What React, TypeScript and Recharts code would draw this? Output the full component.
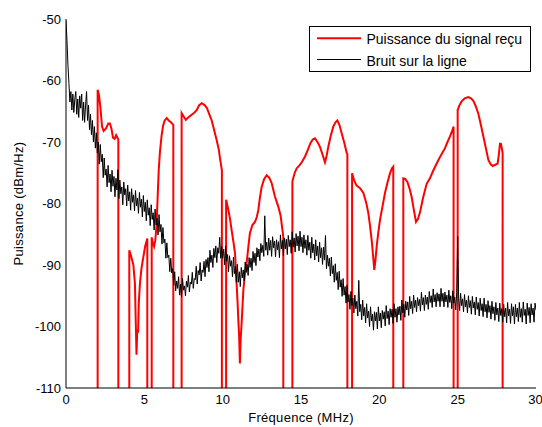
import React from 'react';
import { LineChart, Line, XAxis, YAxis, Legend } from 'recharts';

const FREQ_TICKS = [0, 5, 10, 15, 20, 25, 30];
const DBM_TICKS = [-110, -100, -90, -80, -70, -60, -50];
const SERIES_NAMES = ['Puissance du signal reçu', 'Bruit sur la ligne'];
const X_TITLE = 'Fréquence (MHz)';
const Y_TITLE = 'Puissance (dBm/Hz)';

// value used where the received signal falls below the displayed floor (notches)
const BELOW_FLOOR = -130;

// line noise, sampled every 0.0625 MHz from 0 to 30 MHz (one row per MHz)
const NOISE_STEP_MHZ = 0.0625;
const NOISE_DBM = [
  -50.2, -53.5, -57.5, -60.5, -63.5, -61.8, -64.8, -62.2, -65.2, -63, -61.8, -65.5, -63, -66, -62.5, -64.5,
  -62.2, -66.5, -63.5, -66.8, -64, -61.8, -66.5, -64, -68, -65.5, -68.8, -66.5, -70, -67.5, -71, -68.5,
  -71.8, -70, -73.6, -70.4, -73.2, -72, -75.8, -72.6, -75.4, -74.4, -77.3, -73.8, -76.6, -75.2, -78.1, -74.6,
  -77.2, -75.6, -78.9, -75.9, -77.8, -74.5, -79.2, -76.2, -78.4, -77.3, -80.2, -76.5, -78.6, -77.6, -80.4, -77,
  -79.6, -78.1, -81.1, -77.6, -79.8, -78.6, -81.2, -77.9, -80.4, -79.1, -81.6, -78.2, -80.6, -79.3, -82.2, -78.7,
  -81.3, -79.8, -82.8, -79.4, -81.9, -80.7, -83.6, -80.2, -82.6, -81.5, -84.3, -80.9, -83.5, -82.4, -85.1, -81.8,
  -84.6, -83.4, -86.6, -83.9, -86.4, -85.8, -88.9, -86.4, -88.8, -88.4, -91.1, -88.9, -91.3, -90.6, -93.3, -91.1,
  -94.2, -92.6, -93.8, -91.9, -94.9, -93.1, -95.2, -92.2, -94.1, -93.4, -95, -92.6, -93.6, -91.7, -94.4, -92.8,
  -93.1, -91.2, -93.8, -92.2, -92.4, -90.2, -93.1, -90.9, -91.6, -89.6, -92.6, -90.8, -91.2, -89.4, -91.9, -89.1,
  -90.4, -88.8, -91.1, -87.6, -89.6, -88.4, -90.4, -87.3, -88.8, -86.9, -89.6, -87.2, -88.1, -85.5, -88.9, -87,
  -88.9, -87.4, -90, -86.9, -89.4, -88.3, -91.1, -88.5, -90.2, -89.3, -91.9, -88.7, -91.4, -90.2, -92.8, -89.9,
  -92.8, -91.1, -93.5, -90.4, -92.1, -90.8, -92.6, -89.5, -91.2, -89.9, -91.7, -88.8, -90.4, -88.9, -90.9, -87.8,
  -89.6, -88.1, -90.1, -87.2, -88.7, -87.4, -89.3, -86.5, -88, -86.8, -88.6, -82, -87.6, -86.3, -88.4, -85.6,
  -87.6, -86, -88.6, -85.4, -87.2, -86.1, -88.7, -85.9, -87.5, -86.2, -88.8, -85.1, -87.4, -86, -88.5, -85.6,
  -87.4, -85.8, -88.3, -85.2, -87, -85.9, -88.1, -84.6, -87.1, -85.6, -87.9, -84.9, -86.9, -85.3, -87.7, -84.5,
  -87, -85.5, -88, -85.1, -87.3, -85.9, -88.4, -85.2, -87.6, -86.3, -88.9, -85.5, -88, -86.6, -89.2, -85.9,
  -88.5, -86.9, -89.5, -86.3, -88.8, -87.2, -89.9, -87.1, -89.2, -85.2, -90.6, -88.4, -90.2, -88.9, -91.8, -88.7,
  -91.4, -90.1, -92.8, -89.8, -92.5, -91.2, -94, -91, -93.6, -92.4, -95.1, -92.2, -94.9, -93.5, -96.2, -93.3,
  -96, -94.8, -97.2, -94.3, -96.6, -95.4, -97.8, -94.9, -97.1, -95.9, -98.3, -92.5, -97.6, -96.4, -98.9, -95.7,
  -98.3, -96.9, -99.4, -96.3, -98.6, -97.5, -100, -96.8, -99.1, -98, -100.6, -97.6, -99.1, -97.7, -100.4, -96.8,
  -99.1, -97.8, -100.2, -97.4, -98.8, -97.6, -99.9, -96.6, -98.7, -97.5, -99.7, -97.1, -98.5, -97.2, -99.5, -96.3,
  -98.5, -97.1, -99.3, -96.8, -98.1, -96.7, -99, -95.7, -97.8, -96.4, -98.5, -95.9, -97.3, -96, -98.2, -95.1,
  -97.1, -95.9, -97.9, -94.9, -96.9, -95.7, -97.6, -95.3, -96.6, -95.6, -97.5, -94.4, -96.5, -95.3, -97.4, -94.9,
  -96.4, -95.2, -97.2, -94.3, -96.1, -95, -96.9, -93.9, -96, -94.8, -96.8, -94.5, -95.9, -94.7, -96.8, -93.8,
  -95.9, -94.6, -96.8, -94.4, -96, -94.9, -96.9, -94.1, -96.1, -95, -97.1, -94.2, -96.2, -95.2, -97.3, -94.5,
  -85.4, -95.4, -97.4, -94.6, -96.6, -95.5, -97.6, -94.8, -96.8, -95.7, -97.8, -95, -96.9, -95.8, -98, -95.1,
  -97, -96, -98.1, -95.2, -97.2, -96.1, -98.3, -95.4, -97.4, -96.3, -98.4, -95.4, -97.6, -96.4, -98.6, -95.8,
  -97.7, -96.6, -98.8, -95.9, -97.9, -96.8, -99, -96.1, -98.1, -97, -99.2, -96.2, -98.2, -97.1, -99.3, -96.4,
  -98.4, -97, -99.4, -96.1, -98.3, -97.2, -99.5, -96.3, -98.3, -96.8, -99.6, -96.4, -98.4, -97, -99.2, -96.1,
  -98.5, -97.1, -99.3, -96, -98.2, -97.2, -99.6, -96.2, -98.2, -96.9, -99.4, -96.3, -98.1, -97, -99.3, -96.2,
  -97.3,
];

// received signal power: [frequency MHz, dBm/Hz]
const SIGNAL_POINTS: [number, number][] = [
  [2.02, BELOW_FLOOR], [2.02, -61.5], [2.1, -62.3], [2.2, -64.5], [2.3, -67.5], [2.4, -68.2],
  [2.55, -67.8], [2.7, -67.0], [2.8, -67.0], [2.9, -67.8], [3.0, -69.3], [3.1, -69.5],
  [3.2, -68.9], [3.3, -69.4], [3.34, -69.6], [3.34, BELOW_FLOOR],
  [4.04, BELOW_FLOOR], [4.04, -87.6], [4.15, -88.5], [4.3, -90], [4.4, -93], [4.45, -99],
  [4.5, -104.6], [4.55, -100.5], [4.6, -101], [4.65, -96], [4.72, -93], [4.82, -90.5],
  [4.93, -88.8], [5.05, -87], [5.19, -85.7], [5.19, BELOW_FLOOR],
  [5.47, BELOW_FLOOR], [5.47, -85.5], [5.55, -86.5], [5.62, -87], [5.7, -86], [5.78, -83.5],
  [5.85, -79], [5.92, -74.5], [6.0, -71.5], [6.1, -69], [6.2, -67.3], [6.3, -66.5],
  [6.43, -66.1], [6.55, -66.5], [6.7, -66.8], [6.85, -67.2], [6.85, BELOW_FLOOR],
  [7.38, BELOW_FLOOR], [7.38, -65.3], [7.5, -65.8], [7.65, -66.4], [7.8, -66.0], [8.0, -65.6],
  [8.2, -65.2], [8.35, -64.8], [8.5, -64.0], [8.66, -63.7], [8.85, -64.0], [9.0, -64.5],
  [9.15, -65.5], [9.3, -66.5], [9.45, -68], [9.6, -69.5], [9.75, -71.2], [9.85, -73],
  [9.95, -74.6], [9.95, BELOW_FLOOR],
  [10.22, BELOW_FLOOR], [10.22, -79.4], [10.36, -81], [10.47, -82.5], [10.57, -84.3],
  [10.7, -86.5], [10.79, -88.1], [10.89, -93], [10.95, -96], [11.0, -99], [11.05, -101.5],
  [11.1, -106], [11.15, -102], [11.21, -99.5], [11.32, -94.1], [11.42, -91.5], [11.53, -89.7],
  [11.64, -87], [11.74, -84.8], [11.9, -83.5], [12.06, -83], [12.18, -82.2], [12.28, -81],
  [12.38, -79], [12.49, -77.3], [12.65, -76], [12.81, -75.4], [12.97, -75.8], [13.13, -76.7],
  [13.34, -78.9], [13.55, -80.5], [13.7, -82], [13.87, -85.4], [13.87, BELOW_FLOOR],
  [14.45, BELOW_FLOOR], [14.45, -76.4], [14.6, -75], [14.72, -74.3], [14.9, -73.8],
  [15.05, -73.3], [15.25, -72.4], [15.45, -71.2], [15.6, -70.2], [15.75, -69.6],
  [15.89, -69.4], [16.05, -70], [16.21, -70.8], [16.37, -72], [16.53, -73.3], [16.64, -72.2],
  [16.74, -70.8], [16.9, -69], [17.06, -67.5], [17.2, -66.8], [17.32, -66.5], [17.45, -67.2],
  [17.6, -68.6], [17.75, -70], [17.92, -71.8], [17.96, -72], [17.96, BELOW_FLOOR],
  [18.26, BELOW_FLOOR], [18.26, -75.1], [18.4, -76.3], [18.55, -77.1], [18.77, -77.5],
  [18.98, -78.3], [19.1, -79.3], [19.2, -80.3], [19.3, -81.6], [19.4, -83.5], [19.51, -85.9],
  [19.6, -88.5], [19.68, -90.8], [19.76, -89], [19.83, -87], [19.93, -84.8], [20.04, -82.7],
  [20.2, -80.5], [20.36, -78.3], [20.52, -76.6], [20.68, -75.1], [20.8, -74.3], [20.89, -74],
  [20.89, BELOW_FLOOR],
  [21.53, BELOW_FLOOR], [21.53, -75.9], [21.65, -76], [21.79, -76.5], [21.92, -77.5],
  [22.06, -78.9], [22.2, -81], [22.34, -83], [22.47, -82.5], [22.6, -81.4], [22.8, -79],
  [23.02, -76.8], [23.23, -75.9], [23.45, -74.6], [23.66, -73.5], [23.9, -72.3], [24.19, -71],
  [24.35, -70], [24.51, -69.1], [24.65, -68.2], [24.74, -67.5], [24.74, BELOW_FLOOR],
  [25.0, BELOW_FLOOR], [25.0, -64.8], [25.12, -64], [25.25, -63.4], [25.45, -62.9],
  [25.68, -62.7], [25.85, -62.9], [26.0, -63.3], [26.16, -64.2], [26.32, -65.4],
  [26.48, -67.2], [26.64, -69.1], [26.8, -71], [26.96, -72.9], [27.1, -73.6], [27.23, -73.9],
  [27.4, -73.7], [27.55, -73.5], [27.63, -72], [27.7, -70.3], [27.76, -70.3], [27.82, -71],
  [27.87, -71.8], [27.87, BELOW_FLOOR],
];

const FONT = '"Liberation Sans", Arial, Helvetica, sans-serif';

const noiseData = NOISE_DBM.map((v, i) => ({ f: i * NOISE_STEP_MHZ, v }));
const signalData = SIGNAL_POINTS.map(([f, v]) => ({ f, v }));

const LegendBox = () => (
  <svg width={223} height={47} style={{ display: 'block' }}>
    <rect x={0.5} y={0.5} width={221} height={45} fill="#fff" stroke="#000" strokeWidth={1} />
    <line x1={8} x2={52} y1={12.3} y2={12.3} stroke="#ff0000" strokeWidth={2} />
    <text x={57.5} y={18.3} fontSize={14} fontFamily={FONT} fill="#000">{SERIES_NAMES[0]}</text>
    <line x1={8} x2={52} y1={33.5} y2={33.5} stroke="#000" strokeWidth={1} />
    <text x={57.5} y={39.6} fontSize={14} fontFamily={FONT} fill="#000">{SERIES_NAMES[1]}</text>
  </svg>
);

export default function App() {
  const tickStyle = { fill: '#000', fontSize: 13, fontFamily: FONT };
  return (
    <div style={{ position: 'absolute', left: 0, top: 0, background: '#fff' }}>
      <LineChart width={542} height={427} margin={{ top: 19, right: 6, left: 0, bottom: 0 }}>
        <XAxis
          xAxisId="main"
          type="number"
          dataKey="f"
          domain={[0, 30]}
          ticks={FREQ_TICKS}
          allowDataOverflow
          height={39}
          tickSize={0}
          tickMargin={7}
          tick={tickStyle}
          axisLine={{ stroke: '#000' }}
          label={{
            content: () => (
              <text x={301} y={422} textAnchor="middle" fontSize={13} fontFamily={FONT} letterSpacing={0.3} fill="#000">
                {X_TITLE}
              </text>
            ),
          }}
        />
        <XAxis
          xAxisId="top"
          orientation="top"
          type="number"
          domain={[0, 30]}
          height={0}
          tick={false}
          tickLine={false}
          axisLine={{ stroke: '#666' }}
        />
        <YAxis
          yAxisId="main"
          type="number"
          domain={[-110, -50]}
          ticks={DBM_TICKS}
          allowDataOverflow
          width={66}
          tickSize={0}
          tickMargin={5}
          tick={tickStyle}
          axisLine={{ stroke: '#000' }}
          label={{
            content: () => (
              <text
                x={23}
                y={203.5}
                transform="rotate(-90 23 203.5)"
                textAnchor="middle"
                fontSize={13}
                fontFamily={FONT}
                letterSpacing={0.3}
                fill="#000"
              >
                {Y_TITLE}
              </text>
            ),
          }}
        />
        <YAxis
          yAxisId="right"
          orientation="right"
          type="number"
          domain={[-110, -50]}
          width={0}
          tick={false}
          tickLine={false}
          axisLine={{ stroke: '#666' }}
        />
        <Legend
          layout="vertical"
          align="center"
          verticalAlign="middle"
          wrapperStyle={{ left: 309, top: 26, width: 223, height: 47 }}
          content={() => <LegendBox />}
        />
        <Line
          xAxisId="main"
          yAxisId="main"
          data={signalData}
          dataKey="v"
          name={SERIES_NAMES[0]}
          type="linear"
          stroke="#ff0000"
          strokeWidth={2}
          dot={false}
          activeDot={false}
          isAnimationActive={false}
        />
        <Line
          xAxisId="main"
          yAxisId="main"
          data={noiseData}
          dataKey="v"
          name={SERIES_NAMES[1]}
          type="linear"
          stroke="#000"
          strokeWidth={1}
          dot={false}
          activeDot={false}
          isAnimationActive={false}
        />
      </LineChart>
    </div>
  );
}
